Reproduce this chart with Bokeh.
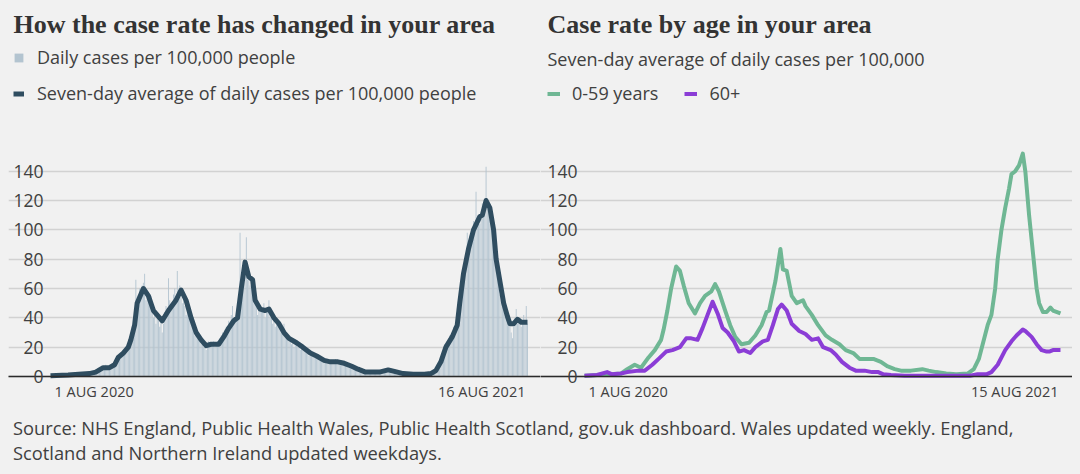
from bokeh.plotting import figure
from bokeh.models import Range1d, FixedTicker, Label, Legend, LegendItem, Div, ColumnDataSource, Grid
from bokeh.layouts import column, row
from bokeh.embed import file_html
from bokeh.resources import INLINE

# ---------------- data ----------------
Y_TICKS = [0, 20, 40, 60, 80, 100, 120, 140]

left_tick_days = [0, 380]
left_tick_labels = ["1 AUG 2020", "16 AUG 2021"]
right_tick_days = [0, 379]
right_tick_labels = ["1 AUG 2020", "15 AUG 2021"]

# daily cases per 100,000 (day 0 = 1 Aug 2020)
daily_cases = [
    0, 1, 0, 1, 0, 1, 0,
    1, 1, 2, 1, 0, 1, 1,
    1, 2, 2, 1, 2, 1, 2,
    2, 2, 3, 2, 1, 2, 2,
    2, 3, 3, 2, 3, 2, 3,
    3, 4, 5, 6, 5, 6, 7,
    7, 6, 8, 5, 6, 7, 6,
    7, 9, 10, 12, 13, 14, 15,
    14, 16, 18, 17, 19, 21, 22,
    24, 30, 34, 40, 46, 66, 50,
    56, 60, 58, 62, 64, 70, 52,
    58, 52, 48, 55, 45, 40, 42,
    36, 42, 38, 34, 40, 30, 36,
    44, 48, 42, 67, 52, 46, 50,
    56, 60, 54, 72, 58, 62, 54,
    50, 56, 48, 42, 46, 44, 40,
    42, 34, 36, 28, 30, 26, 28,
    24, 22, 26, 20, 22, 18, 21,
    24, 20, 22, 22, 24, 20, 22,
    24, 22, 26, 28, 30, 26, 32,
    34, 30, 38, 36, 42, 48, 36,
    40, 42, 46, 52, 98, 58, 66,
    72, 74, 95, 66, 70, 62, 64,
    60, 58, 50, 54, 42, 48, 44,
    46, 44, 50, 40, 46, 44, 52,
    40, 44, 36, 42, 34, 38, 36,
    38, 32, 34, 30, 36, 28, 30,
    28, 24, 26, 22, 26, 20, 24,
    24, 20, 22, 18, 22, 20, 18,
    18, 16, 18, 14, 16, 14, 15,
    14, 16, 12, 14, 11, 12, 13,
    12, 10, 11, 9, 12, 10, 10,
    11, 9, 10, 12, 10, 9, 10,
    9, 10, 8, 9, 8, 7, 8,
    7, 6, 7, 5, 6, 5, 5,
    5, 4, 4, 3, 4, 3, 3,
    3, 3, 4, 3, 3, 2, 3,
    3, 4, 3, 4, 3, 4, 4,
    4, 5, 4, 5, 4, 5, 4,
    4, 3, 4, 3, 2, 3, 2,
    2, 2, 2, 1, 2, 2, 1,
    2, 1, 2, 1, 2, 1, 2,
    1, 2, 2, 1, 2, 2, 2,
    2, 2, 3, 3, 3, 4, 5,
    6, 8, 10, 12, 14, 18, 22,
    20, 24, 26, 28, 26, 30, 34,
    32, 36, 44, 50, 58, 64, 70,
    72, 80, 84, 98, 90, 96, 92,
    100, 106, 98, 126, 104, 108, 104,
    110, 118, 112, 120, 143, 116, 118,
    108, 106, 100, 96, 84, 74, 68,
    64, 56, 52, 50, 46, 44, 40,
    38, 36, 34, 30, 26, 34, 40,
    46, 36, 38, 40, 34, 36, 42,
    38, 48, 36,
]
daily_days = list(range(len(daily_cases)))

# seven-day average (left chart)
avg_days = [0, 14, 31, 36, 42, 47, 51, 54, 58, 62, 64, 67, 69, 74, 78, 82, 89, 94, 100, 104,
            108, 112, 116, 120, 124, 128, 134, 138, 142, 146, 149, 152, 155, 158, 161, 163, 167, 171, 174, 178,
            182, 186, 190, 196, 201, 207, 212, 218, 223, 229, 234, 240, 245, 251, 256, 262, 269, 274, 281, 289,
            298, 303, 307, 311, 315, 320, 324, 326, 329, 333, 337, 342, 344, 347, 350, 353, 355, 358, 361, 364,
            366, 369, 372, 375, 380]
avg_vals = [0.5, 1, 2, 3, 6, 6, 8, 13, 16, 20, 25, 35, 50, 60, 55, 45, 38, 45, 52, 59,
            52, 40, 30, 25, 21, 22, 22, 27, 33, 38, 40, 60, 78, 68, 66, 52, 46, 45, 46, 40,
            36, 30, 26, 23, 20, 16, 14, 11, 10, 10, 9, 7, 5, 3, 3, 3, 4.5, 3.5, 2, 1.5,
            1.5, 2, 4, 10, 20, 27, 35, 50, 70, 87, 100, 109, 110, 120, 115, 100, 80, 65, 50, 41,
            36, 36, 39, 37, 37]

# by age (right chart)
young_days = [0, 10, 20, 29, 34, 40, 45, 51, 56, 61, 63, 66, 69, 73, 76, 79, 83, 88, 92, 96,
              101, 104, 107, 112, 116, 120, 125, 131, 136, 141, 145, 147, 152, 156, 158, 161, 165, 169, 174, 176,
              181, 186, 192, 197, 203, 208, 214, 219, 225, 230, 236, 241, 247, 252, 260, 269, 274, 280, 288, 296,
              305, 310, 314, 318, 321, 324, 327, 329, 332, 335, 338, 340, 343, 346, 349, 351, 354, 357, 360, 362,
              365, 368, 371, 373, 379]
young_vals = [0.5, 1, 1.5, 2, 5, 8, 6, 13, 18, 25, 32, 45, 60, 75, 72, 62, 50, 43, 50, 55,
              58, 63, 58, 45, 35, 27, 22, 23, 28, 35, 44, 45, 65, 87, 73, 72, 55, 50, 52, 48,
              42, 35, 28, 25, 22, 18, 16, 12, 12, 12, 10, 7, 5, 4, 4, 5, 4, 3, 2, 1.5,
              2, 5, 12, 25, 35, 42, 60, 80, 100, 115, 128, 138, 140, 144, 152, 140, 110, 85, 60, 50,
              44, 44, 47, 45, 43]

old_days = [0, 10, 18, 22, 29, 34, 43, 48, 54, 59, 65, 70, 76, 81, 85, 90, 94, 98, 102, 106,
            110, 114, 119, 123, 127, 132, 136, 142, 146, 150, 154, 157, 161, 165, 171, 176, 181, 186, 190, 196,
            200, 205, 211, 216, 223, 229, 234, 238, 244, 255, 266, 280, 294, 307, 313, 320, 324, 329, 335, 340,
            344, 349, 351, 356, 360, 364, 368, 370, 373, 379]
old_vals = [0.5, 1, 3, 1.5, 2, 3, 4, 4, 8, 12, 17, 18, 20, 26, 26, 25, 33, 42, 51, 43,
            33, 30, 24, 17, 18, 16, 20, 24, 25, 35, 46, 49, 45, 36, 31, 29, 25, 26, 20, 18,
            15, 10, 6, 4, 4, 3, 3, 1.5, 1, 0.5, 0.5, 0.5, 0.5, 0.5, 1.5, 1.5, 3, 8, 18, 24,
            28, 32, 31, 27, 22, 18, 17, 17, 18, 18]

# ---------------- style ----------------
BG = "#f1f1f1"
TXT = "#404040"
HEAD = "#333333"
FONT = "Open Sans"
SERIF = "Liberation Serif"
BAR_C = "#b3c4d0"
AVG_C = "#2f4d60"
YOUNG_C = "#6fb794"
OLD_C = "#8b3dd6"

FIG_W, FIG_H = 532, 398
PX_PER_UNIT = 1.4664          # vertical scale (pixels per case)
ZERO_FROM_BOTTOM = 30         # pixels between y=0 and the bottom of the figure


def make_fig(x_range, grid_bounds):
    y_start = -ZERO_FROM_BOTTOM / PX_PER_UNIT
    y_end = y_start + FIG_H / PX_PER_UNIT
    p = figure(width=FIG_W, height=FIG_H, title=None,
               x_range=Range1d(*x_range), y_range=Range1d(y_start, y_end),
               x_axis_type=None, y_axis_type=None,
               output_backend="svg", toolbar_location=None,
               min_border=0,
               background_fill_color=BG, border_fill_color=BG,
               outline_line_color=None)
    p.add_layout(Grid(dimension=1, ticker=FixedTicker(ticks=Y_TICKS), bounds=grid_bounds,
                      grid_line_color="#d2d2d2", grid_line_width=1.5))
    p.add_layout(Grid(dimension=1, ticker=FixedTicker(ticks=[0]), bounds=grid_bounds,
                      grid_line_color="#2a2a2a", grid_line_width=1.6, level="guide"))
    for t in Y_TICKS:
        p.add_layout(Label(x=0, y=t, x_offset=-7, text=str(t), text_align="right",
                           text_baseline="middle", text_font=FONT, text_font_size="17.5px",
                           text_color=TXT))
    return p


def add_date_labels(p, days, labels):
    for i, (d, t) in enumerate(zip(days, labels)):
        first = i == 0
        p.add_layout(Label(x=d, y=-10, x_offset=4 if first else -2,
                           text=t, text_align="left" if first else "right",
                           text_baseline="middle", text_font=FONT,
                           text_font_size="14.5px", text_color=TXT))


def add_text(p, text, x, y, font, size, style, color):
    p.add_layout(Label(x=x, y=y, x_units="screen", y_units="screen", text=text,
                       text_align="left", text_baseline="alphabetic",
                       text_font=font, text_font_size=size,
                       text_font_style=style, text_color=color))


# ---------------- left chart ----------------
p1 = make_fig((-33.46, 390.36), (-1.59, 380.8))
bars = p1.vbar(x="d", top="v", width=0.72, fill_color=BAR_C, line_color=None,
               source=ColumnDataSource(dict(d=daily_days, v=daily_cases)))
avg = p1.line(x="d", y="v", line_color=AVG_C, line_width=5, line_join="round",
              source=ColumnDataSource(dict(d=avg_days, v=avg_vals)))
add_date_labels(p1, left_tick_days, left_tick_labels)
add_text(p1, "How the case rate has changed in your area", 5, 382, SERIF, "26px", "bold", HEAD)
leg1 = Legend(items=[LegendItem(label="Daily cases per 100,000 people", renderers=[bars]),
                     LegendItem(label="Seven-day average of daily cases per 100,000 people", renderers=[avg])],
              location=(5, 301), orientation="vertical",
              glyph_width=11, glyph_height=11, label_height=11, spacing=12,
              label_standoff=13, padding=0, margin=0,
              background_fill_alpha=0, border_line_color=None,
              label_text_font=FONT, label_text_font_size="18px", label_text_color=TXT)
p1.add_layout(leg1)

# ---------------- right chart ----------------
p2 = make_fig((-35.03, 388.57), (-3.18, 383.8))
young = p2.line(x="d", y="v", line_color=YOUNG_C, line_width=4, line_join="round",
                source=ColumnDataSource(dict(d=young_days, v=young_vals)))
old = p2.line(x="d", y="v", line_color=OLD_C, line_width=4, line_join="round",
              source=ColumnDataSource(dict(d=old_days, v=old_vals)))
add_date_labels(p2, right_tick_days, right_tick_labels)
add_text(p2, "Case rate by age in your area", 7, 382, SERIF, "26px", "bold", HEAD)
add_text(p2, "Seven-day average of daily cases per 100,000", 7, 348, FONT, "18px", "normal", TXT)
leg2 = Legend(items=[LegendItem(label="0-59 years", renderers=[young]),
                     LegendItem(label="60+", renderers=[old])],
              location=(7, 301), orientation="horizontal",
              glyph_width=13, glyph_height=11, label_height=11, spacing=26,
              label_standoff=12, padding=0, margin=0,
              background_fill_alpha=0, border_line_color=None,
              label_text_font=FONT, label_text_font_size="18px", label_text_color=TXT)
p2.add_layout(leg2)

source_text = ("Source: NHS England, Public Health Wales, Public Health Scotland, gov.uk dashboard. "
               "Wales updated weekly. England,<br>Scotland and Northern Ireland updated weekdays.")
src = Div(text=('<div style="font-family:\'Open Sans\';font-size:18.3px;line-height:25px;'
                'color:#404040;padding:4px 0 0 0;white-space:nowrap">' + source_text + '</div>'),
          width=1064, height=52)

layout = column(row(p1, p2), src)

html = file_html(layout, INLINE, title="Case rate")
html = html.replace("<body>", '<body style="background-color:%s;padding:8px;">' % BG)
open("out.html", "w").write(html)
